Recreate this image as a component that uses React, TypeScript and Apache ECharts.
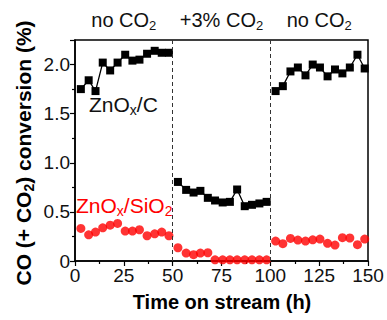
import React, { useEffect, useRef } from "react";
import * as echarts from "echarts";

const FONT = '"Liberation Sans", Arial, sans-serif';

// Time on stream (h) for each of the three periods
const time1 = [3, 7, 10.5, 14.2, 18, 21.8, 25.7, 29.4, 33, 36.9, 40.8, 44.4, 48.1];
const time2 = [52.7, 56.9, 60.7, 64.2, 68, 71.7, 75.6, 79.3, 83, 86.9, 90.6, 94.4, 98.1];
const time3 = [102.7, 106.4, 110.3, 114.1, 118, 121.7, 125.4, 129.3, 133.1, 136.9, 140.7, 144.6, 148.3];

// ZnOx/C conversion (%)
const znoxC1 = [1.75, 1.84, 1.73, 2.02, 1.94, 2.02, 2.1, 2.04, 2.05, 2.11, 2.14, 2.12, 2.12];
const znoxC2 = [0.805, 0.724, 0.697, 0.714, 0.643, 0.616, 0.596, 0.602, 0.728, 0.558, 0.572, 0.586, 0.602];
const znoxC3 = [1.73, 1.78, 1.93, 1.97, 1.89, 2.0, 1.97, 1.88, 1.95, 1.91, 1.97, 2.1, 1.96];

// ZnOx/SiO2 conversion (%)
const znoxSi1 = [0.332, 0.267, 0.294, 0.338, 0.365, 0.383, 0.305, 0.305, 0.318, 0.257, 0.277, 0.294, 0.257];
const znoxSi2 = [0.135, 0.081, 0.064, 0.081, 0.084, 0.012, 0.012, 0.012, 0.012, 0.012, 0.012, 0.012, 0.012];
const znoxSi3 = [0.203, 0.176, 0.23, 0.213, 0.203, 0.216, 0.223, 0.18, 0.162, 0.237, 0.234, 0.166, 0.223];

// Period boundaries (h) and labels
const boundaries = [50, 100];
const periodCenters = [25, 75, 125];
const periodLabels = ["no CO{s|2}", "+3% CO{s|2}", "no CO{s|2}"];

const xTicks = [0, 25, 50, 75, 100, 125, 150];
const yTicks = [0, 0.5, 1.0, 1.5, 2.0];

const zip = (xs: number[], ys: number[]) => xs.map((x, i) => [x, ys[i]]);

export default function App() {
  const ref = useRef<HTMLDivElement>(null);
  useEffect(() => {
    if (!ref.current) return;
    const chart = echarts.init(ref.current, null, { renderer: "svg" });
    const grid = { left: 75, right: 19, top: 40, bottom: 59 };
    const blackSeries = [
      zip(time1, znoxC1),
      zip(time2, znoxC2),
      zip(time3, znoxC3),
    ].map((d, i) => ({
      type: "line",
      data: d,
      symbol: "rect",
      symbolSize: 8,
      itemStyle: { color: "#000" },
      lineStyle: { color: "#000", width: 1.3 },
      z: 3,
      ...(i === 0
        ? {
            markLine: {
              silent: true,
              symbol: "none",
              label: { show: false },
              lineStyle: { color: "#333", type: [4, 3], width: 1 },
              data: boundaries.map((b) => ({ xAxis: b })),
            },
          }
        : {}),
    }));
    const redSeries = [
      zip(time1, znoxSi1),
      zip(time2, znoxSi2),
      zip(time3, znoxSi3),
    ].map((d) => ({
      type: "scatter",
      data: d,
      symbol: "circle",
      symbolSize: 9,
      itemStyle: { color: "#ff0000" },
      z: 4,
    }));

    const plotW = 387 - grid.left - grid.right;
    const xPix = (v: number) => grid.left + (v / 150) * plotW;

    chart.setOption({
      animation: false,
      grid: { ...grid, show: true, borderColor: "#000", borderWidth: 1.5, backgroundColor: "transparent" },
      xAxis: {
        type: "value",
        min: 0,
        max: 150,
        interval: 25,
        axisLine: { show: true, lineStyle: { color: "#000", width: 1.5 } },
        axisTick: { show: true, inside: false, length: 5, lineStyle: { color: "#000", width: 1.2 } },
        minorTick: { show: true, splitNumber: 2, length: 3, lineStyle: { color: "#000", width: 1.2 } },
        splitLine: { show: false },
        axisLabel: {
          color: "#111",
          fontFamily: FONT,
          fontSize: 19,
          margin: 5,
          formatter: (v: number) => (xTicks.includes(v) ? String(v) : ""),
        },
      },
      yAxis: {
        type: "value",
        min: 0,
        max: 2.25,
        interval: 0.5,
        axisLine: { show: true, lineStyle: { color: "#000", width: 1.5 } },
        axisTick: { show: true, inside: false, length: 5, lineStyle: { color: "#000", width: 1.2 } },
        minorTick: { show: true, splitNumber: 2, length: 3, lineStyle: { color: "#000", width: 1.2 } },
        splitLine: { show: false },
        axisLabel: {
          color: "#111",
          fontFamily: FONT,
          fontSize: 19,
          margin: 5,
          showMaxLabel: false,
          formatter: (v: number) => {
            if (!yTicks.includes(v)) return "";
            return v === 0 ? "0" : v.toFixed(1);
          },
        },
      },
      series: [...blackSeries, ...redSeries],
      graphic: [
        ...periodCenters.map((c, i) => ({
          type: "text",
          x: xPix(c),
          y: 20,
          style: {
            text: periodLabels[i],
            fontFamily: FONT,
            fontSize: 20,
            fill: "#111",
            align: "center",
            verticalAlign: "middle",
            rich: {
              s: { fontFamily: FONT, fontSize: 13, fill: "#111", padding: [11, 0, 0, 0] },
            },
          },
        })),
        {
          type: "text",
          x: 89,
          y: 104,
          style: {
            text: "ZnO{s|x}/C",
            fontFamily: FONT,
            fontSize: 21,
            fill: "#111",
            align: "left",
            verticalAlign: "middle",
            rich: { s: { fontFamily: FONT, fontSize: 14, fill: "#111", padding: [12, 0, 0, 0] } },
          },
        },
        {
          type: "text",
          x: 76,
          y: 205,
          style: {
            text: "ZnO{s|x}/SiO{s|2}",
            fontFamily: FONT,
            fontSize: 21,
            fill: "#ff0000",
            align: "left",
            verticalAlign: "middle",
            rich: { s: { fontFamily: FONT, fontSize: 14, fill: "#ff0000", padding: [12, 0, 0, 0] } },
          },
        },
        {
          type: "text",
          x: 222,
          y: 302,
          style: {
            text: "Time on stream (h)",
            fontFamily: FONT,
            fontSize: 20,
            fontWeight: "bold",
            fill: "#000",
            align: "center",
            verticalAlign: "middle",
          },
        },
        {
          type: "text",
          x: 23,
          y: 153,
          rotation: Math.PI / 2,
          style: {
            text: "CO (+ CO{s|2}) conversion (%)",
            fontFamily: FONT,
            fontSize: 21,
            fontWeight: "bold",
            fill: "#000",
            align: "center",
            verticalAlign: "middle",
            rich: {
              s: { fontFamily: FONT, fontSize: 14, fontWeight: "bold", fill: "#000", padding: [11, 0, 0, 0] },
            },
          },
        },
      ],
    });
    return () => chart.dispose();
  }, []);
  return <div ref={ref} style={{ width: 387, height: 320, position: "absolute", left: 0, top: 0 }} />;
}
